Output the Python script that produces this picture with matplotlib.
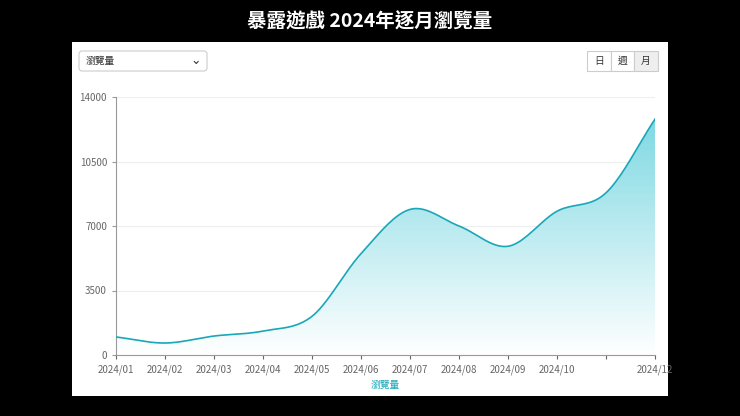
import numpy as np
import matplotlib.pyplot as plt
from matplotlib.patches import Polygon, FancyBboxPatch
from matplotlib.colors import LinearSegmentedColormap

plt.rcParams['font.family'] = ['Noto Sans CJK TC', 'DejaVu Sans']

months = ['2024/01', '2024/02', '2024/03', '2024/04', '2024/05', '2024/06',
          '2024/07', '2024/08', '2024/09', '2024/10', '2024/11', '2024/12']
views = [980, 650, 1030, 1300, 2100, 5500, 7900, 7000, 5900, 7800, 8800, 12800]
tick_labels = ['2024/01', '2024/02', '2024/03', '2024/04', '2024/05', '2024/06',
               '2024/07', '2024/08', '2024/09', '2024/10', '', '2024/12']
yticks = [0, 3500, 7000, 10500, 14000]


def smooth(x, y, n=20):
    # Catmull-Rom spline through the points, just for drawing
    x = np.asarray(x, float)
    y = np.asarray(y, float)
    px = np.concatenate([[2 * x[0] - x[1]], x, [2 * x[-1] - x[-2]]])
    py = np.concatenate([[2 * y[0] - y[1]], y, [2 * y[-1] - y[-2]]])
    xs, ys = [], []
    t = np.linspace(0, 1, n, endpoint=False)
    for i in range(1, len(px) - 2):
        for arr, out in ((px, xs), (py, ys)):
            p0, p1, p2, p3 = arr[i - 1:i + 3]
            out.extend(0.5 * (2 * p1 + (-p0 + p2) * t + (2 * p0 - 5 * p1 + 4 * p2 - p3) * t ** 2
                              + (-p0 + 3 * p1 - 3 * p2 + p3) * t ** 3))
    xs.append(x[-1])
    ys.append(y[-1])
    return np.array(xs), np.array(ys)


fig = plt.figure(figsize=(7.4, 4.16), dpi=100, facecolor='black')
fig.text(0.5, 0.948, '暴露遊戲 2024年逐月瀏覽量', color='white', fontsize=14,
         ha='center', va='center', fontweight='bold')

# white card
panel = fig.add_axes([72 / 740, 20 / 416, 596 / 740, 354 / 416])
panel.set_xlim(0, 596)
panel.set_ylim(354, 0)
panel.axis('off')
panel.add_patch(plt.Rectangle((0, 0), 596, 354, color='white'))
panel.add_patch(FancyBboxPatch((7, 9), 128, 20, boxstyle='round,pad=0,rounding_size=3',
                               fc='white', ec='#cccccc', lw=0.8))
panel.text(14, 19, '瀏覽量', fontsize=7, va='center', color='#333333')
panel.text(124, 19, '⌄', fontsize=9, va='center', ha='center', color='#333333')
for i, lab in enumerate(['日', '週', '月']):
    x0 = 515 + i * 23.5
    panel.add_patch(plt.Rectangle((x0, 9), 23.5, 20, fc='#eeeeee' if lab == '月' else 'white',
                                  ec='#cccccc', lw=0.8))
    panel.text(x0 + 11.75, 19, lab, fontsize=7, ha='center', va='center', color='#333333')

ax = fig.add_axes([116 / 740, 61 / 416, 539 / 740, 258 / 416])
x = np.arange(len(months))
sx, sy = smooth(x, views)
ax.plot(sx, sy, color='#1aa7b8', lw=1.2, zorder=3)

cmap = LinearSegmentedColormap.from_list('g', ['#ffffff', '#7fd9e3'])
grad = np.linspace(0, 1, 256).reshape(-1, 1)
im = ax.imshow(grad, cmap=cmap, aspect='auto', origin='lower',
               extent=[0, len(months) - 1, 0, max(views)], zorder=1)
poly = Polygon(np.column_stack([np.r_[sx[0], sx, sx[-1]], np.r_[0, sy, 0]]),
               closed=True, transform=ax.transData, fc='none', ec='none')
ax.add_patch(poly)
im.set_clip_path(poly)

ax.set_xlim(0, len(months) - 1)
ax.set_ylim(0, 14000)
ax.set_yticks(yticks)
ax.set_yticklabels([str(v) for v in yticks])
ax.set_xticks(x)
ax.set_xticklabels(tick_labels)
ax.grid(axis='y', color='#eeeeee', lw=0.8)
ax.set_axisbelow(True)
for s in ['top', 'right']:
    ax.spines[s].set_visible(False)
for s in ['left', 'bottom']:
    ax.spines[s].set_color('#999999')
ax.tick_params(colors='#666666', labelsize=7, length=3)
ax.tick_params(axis='y', color='#999999')
ax.set_xlabel('瀏覽量', color='#1aa7b8', fontsize=7, labelpad=4)
ax.set_facecolor('none')

fig.savefig('out.png', dpi=100, facecolor='black')
